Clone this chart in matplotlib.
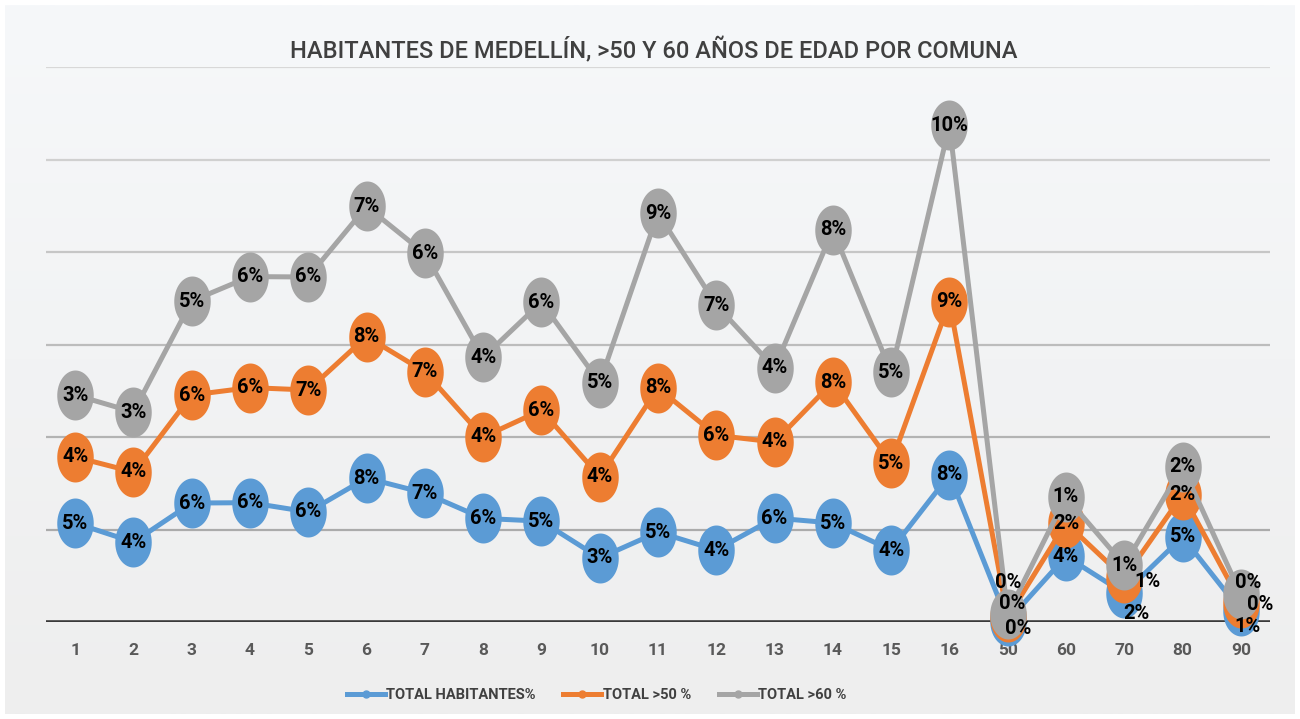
import numpy as np
import matplotlib.pyplot as plt
from matplotlib.path import Path
from matplotlib.lines import Line2D
from matplotlib.colors import LinearSegmentedColormap

plt.rcParams['font.family'] = ['Roboto', 'DejaVu Sans']

# Comunas (categories) and the three series, in percent
comunas = ['1', '2', '3', '4', '5', '6', '7', '8', '9', '10', '11', '12', '13', '14',
           '15', '16', '50', '60', '70', '80', '90']
habitantes = [5.35, 4.32, 6.43, 6.45, 5.95, 7.78, 6.97, 5.6, 5.45, 3.46, 4.86, 3.89, 5.62,
              5.35, 3.89, 7.95, 0.05, 3.55, 1.55, 4.6, 0.6]
mayores50 = [3.57, 3.79, 5.84, 6.22, 6.59, 7.65, 6.55, 4.4, 6.0, 4.4, 7.79, 6.2, 4.11,
             7.62, 4.7, 9.35, 0.2, 1.8, 0.83, 2.28, 0.45]
mayores60 = [3.35, 3.24, 5.08, 6.0, 6.11, 7.03, 6.4, 4.3, 5.84, 5.08, 9.45, 7.04, 4.0,
             8.22, 4.91, 9.55, 0.2, 1.41, 0.7, 1.52, 0.45]
series_names = ['TOTAL HABITANTES%', 'TOTAL >50 %', 'TOTAL >60 %']
colors = ['#5B9BD5', '#ED7D31', '#A5A5A5']

# stacked line chart (each series sits on top of the previous one)
vals = np.array([habitantes, mayores50, mayores60])
cum = np.cumsum(vals, axis=0)
x = np.arange(len(comunas))

# label nudges (pixels) where the labels overlap at the right end
label_offsets = {
    (0, 16): (10, -7), (1, 16): (4, 14), (2, 16): (0, 31),
    (1, 18): (23, -4), (0, 18): (12, -20),
    (2, 20): (7, 12), (1, 20): (19, -2), (0, 20): (7, -16),
}

# tall ellipse marker
t = np.linspace(0, 2 * np.pi, 60)
ellipse = Path(np.column_stack([0.73 * np.cos(t), np.sin(t)]), closed=True)

fig = plt.figure(figsize=(13, 7.19), dpi=100)
fig.patch.set_facecolor('white')

# chart area background with a soft vertical gradient
bg = fig.add_axes([0.004, 0.007, 0.992, 0.986])
grad = np.linspace(0, 1, 256).reshape(-1, 1)
cmap = LinearSegmentedColormap.from_list('bg', ['#f6f8fa', '#eeeeee'])
bg.imshow(grad, aspect='auto', cmap=cmap, extent=[0, 1, 0, 1])
bg.axis('off')

ax = fig.add_axes([46 / 1300, 97 / 719, 1224 / 1300, 555 / 719])
ax.set_facecolor('none')
ax.set_xlim(-0.5, len(comunas) - 0.5)
ax.set_ylim(0, 30)

grid_cols = ['#ababab', '#b3b3b3', '#bcbcbc', '#c6c6c6', '#d0d0d0', '#d8d8d8']
for yv, gc in zip(range(5, 31, 5), grid_cols):
    ax.axhline(yv, color=gc, lw=1.6, zorder=1)
ax.axhline(0, color='#3a3a3a', lw=2.6, zorder=2)

for i in range(3):
    ax.plot(x, cum[i], color=colors[i], lw=3.6, marker=ellipse, markersize=36,
            markeredgewidth=0, zorder=3 + i, clip_on=False)

for i in range(3):
    for j in range(len(comunas)):
        dx, dy = label_offsets.get((i, j), (0, 0))
        ax.annotate(f'{vals[i, j]:.0f}%', (x[j], cum[i, j]), xytext=(dx, dy),
                    textcoords='offset pixels', ha='center', va='center',
                    fontsize=14.5, fontweight='bold', color='black', zorder=10,
                    annotation_clip=False)

for s in ax.spines.values():
    s.set_visible(False)
ax.set_yticks([])
ax.set_xticks(x)
ax.set_xticklabels(comunas, fontsize=12.5, fontweight='bold', color='#595959')
ax.tick_params(axis='x', length=0, pad=15)

fig.text(0.503, 1 - 50 / 719, 'HABITANTES DE MEDELLÍN, >50 Y 60 AÑOS DE EDAD POR COMUNA',
         ha='center', va='center', fontsize=17, fontweight='medium', color='#404040')

handles = [Line2D([], [], color=c, lw=3.6, marker='o', markersize=5) for c in colors]
fig.legend(handles, series_names, loc='center', bbox_to_anchor=(0.459, 1 - 695 / 719),
           ncol=3, frameon=False, handlelength=2.6, handletextpad=0.1, columnspacing=1.9,
           prop={'size': 10.5, 'weight': 'bold'}, labelcolor='#404040')

fig.savefig('out.png', dpi=100, facecolor=fig.get_facecolor())
